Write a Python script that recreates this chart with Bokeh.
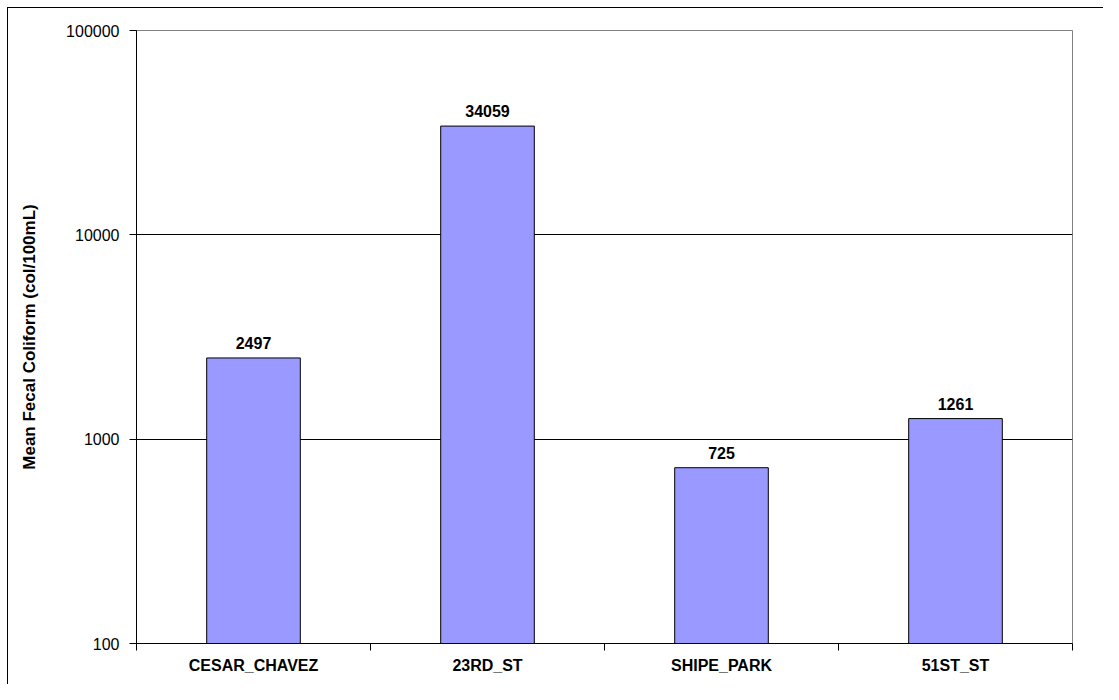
from bokeh.plotting import figure
from bokeh.models import ColumnDataSource, FixedTicker, Range1d, PrintfTickFormatter, LabelSet
from bokeh.core.properties import value
from bokeh.embed import file_html
from bokeh.resources import INLINE

sites = ["CESAR_CHAVEZ", "23RD_ST", "SHIPE_PARK", "51ST_ST"]
means = [2497, 34059, 725, 1261]
y_ticks = [100, 1000, 10000, 100000]

xc = [i + 0.5 for i in range(len(sites))]
src = ColumnDataSource(dict(x=xc, top=means, label=[str(v) for v in means]))

FONT = "Liberation Sans"

p = figure(width=1103, height=684, output_backend="svg", toolbar_location=None,
           y_axis_type="log", x_range=Range1d(0, len(sites)), y_range=Range1d(100, 100000),
           min_border_left=136, min_border_top=30, min_border_right=31, min_border_bottom=41)
p.styles = {"box-shadow": "inset 7px 7px 0 0 white, inset 8px 8px 0 0 black",
            "background-color": "white"}
p.border_fill_color = None

p.vbar(x="x", top="top", bottom=100, width=0.4, source=src,
       fill_color="#9999FF", line_color="black", line_width=1)

labels = LabelSet(x="x", y="top", text="label", source=src, text_align="center",
                  text_baseline="bottom", y_offset=9, text_font=value(FONT),
                  text_font_style="bold", text_font_size="16px", text_color="black")
p.add_layout(labels)

p.outline_line_color = "#808080"
p.outline_line_width = 1
p.background_fill_color = "white"

# y axis
p.yaxis.ticker = FixedTicker(ticks=y_ticks, minor_ticks=[])
p.yaxis.formatter = PrintfTickFormatter(format="%d")
p.yaxis.axis_label = "Mean Fecal Coliform (col/100mL)"
p.yaxis.axis_label_text_font = FONT
p.yaxis.axis_label_text_font_style = "bold"
p.yaxis.axis_label_text_font_size = "17px"
p.yaxis.axis_label_text_color = "black"
p.yaxis.axis_label_standoff = 24
p.yaxis.major_label_text_font = FONT
p.yaxis.major_label_text_font_size = "16px"
p.yaxis.major_label_text_color = "black"
p.yaxis.major_label_standoff = 10
p.yaxis.major_tick_out = 7
p.yaxis.major_tick_in = 0
p.yaxis.axis_line_color = "black"
p.yaxis.major_tick_line_color = "black"

p.ygrid.ticker = FixedTicker(ticks=[1000, 10000])
p.ygrid.grid_line_color = "black"
p.ygrid.grid_line_width = 1
p.xgrid.grid_line_color = None

# x axis
p.xaxis.ticker = FixedTicker(ticks=xc, minor_ticks=list(range(len(sites) + 1)))
p.xaxis.major_label_overrides = {x: s for x, s in zip(xc, sites)}
p.xaxis.major_tick_out = 0
p.xaxis.major_tick_in = 0
p.xaxis.minor_tick_out = 7
p.xaxis.minor_tick_in = 0
p.xaxis.minor_tick_line_color = "black"
p.xaxis.axis_line_color = "black"
p.xaxis.major_label_text_font = FONT
p.xaxis.major_label_text_font_style = "bold"
p.xaxis.major_label_text_font_size = "16px"
p.xaxis.major_label_text_color = "black"
p.xaxis.major_label_standoff = 6

open("out.html", "w").write(file_html(p, INLINE))
